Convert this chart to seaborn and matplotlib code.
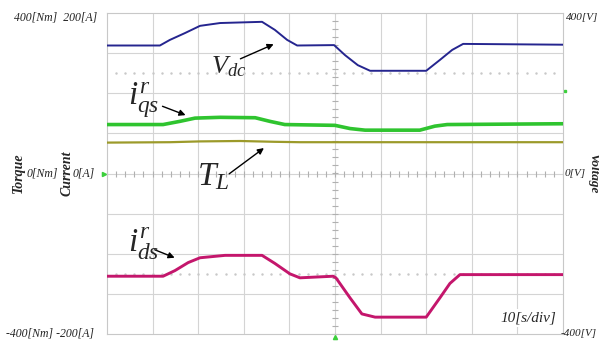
import numpy as np
import pandas as pd
import matplotlib
matplotlib.use("Agg")
import matplotlib.pyplot as plt
import seaborn as sns

# Scope record, 10 s per division, 10 divisions across
time_vdc = [0, 11.6, 13.8, 17.1, 20.4, 24.8, 34.0, 36.8, 39.5, 41.7, 49.8, 52.2, 55.0, 57.7, 70.0, 73.0, 75.7, 78.1, 100]
vdc = [319, 319, 333, 350, 368, 375, 378, 358, 333, 319, 320, 295, 270, 256, 256, 283, 308, 323, 321]  # [V]

time_ids = [0, 12.3, 14.9, 17.8, 20.4, 25.9, 34.0, 36.8, 40.1, 42.3, 49.6, 50.2, 53.3, 55.9, 58.8, 70.0, 73.0, 75.2, 77.4, 100]
ids = [-128, -128, -121, -111, -105, -102, -102, -112, -125, -130, -128, -130, -155, -175, -179, -179, -155, -137, -126, -126]  # [A]

time_iqs = [0, 12.3, 16.0, 19.3, 24.8, 32.5, 35.7, 39.0, 50.0, 53.3, 56.6, 68.6, 71.9, 74.6, 100]
iqs = [61, 61, 65, 69, 70, 69.5, 65, 61, 60, 56, 54, 54, 59, 61, 62]  # [A]

time_tl = [0, 13.8, 20.4, 29.2, 36.8, 42.3, 100]
tl = [77, 78, 80, 81, 79, 78, 78]  # [Nm]

# volts, amps and newton-metres per division on the screen
V_PER_DIV, A_PER_DIV, NM_PER_DIV = 100, 50, 100

traces = {
    "Vdc": (time_vdc, np.array(vdc) / V_PER_DIV, "#25258f", 1.4),
    "iqs": (time_iqs, np.array(iqs) / A_PER_DIV, "#2fc42f", 2.6),
    "TL": (time_tl, np.array(tl) / NM_PER_DIV, "#9c9a2a", 1.6),
    "ids": (time_ids, np.array(ids) / A_PER_DIV, "#c4166c", 2.1),
}

sns.set_theme(style="white")
plt.rcParams["font.family"] = ["Liberation Serif", "DejaVu Serif"]
plt.rcParams["mathtext.fontset"] = "custom"
plt.rcParams["mathtext.it"] = "Liberation Serif:italic"
plt.rcParams["mathtext.rm"] = "Liberation Serif"

W, H = 599, 345
fig = plt.figure(figsize=(W / 100, H / 100), dpi=100)
ax = fig.add_axes([107 / W, 1 - 334 / H, (563 - 107) / W, (334 - 13) / H])

grid_c = "#d4d4d4"
for t in np.arange(10, 100, 10):
    ax.axvline(t, color=grid_c, lw=0.8, zorder=0)
for d in np.arange(-3, 4, 1):
    ax.axhline(d, color=grid_c, lw=0.8, zorder=0)

# graduation ticks on the centre cross
minor_t = np.arange(0, 100.01, 2)
ax.plot(minor_t, np.zeros_like(minor_t), "|", color="#b0b0b0", ms=4, mew=0.8, zorder=0)
minor_d = np.arange(-4, 4.01, 0.2)
ax.plot(np.full_like(minor_d, 50), minor_d, "_", color="#b0b0b0", ms=4, mew=0.8, zorder=0)
for lvl in (2.5, -2.5):
    ax.plot(minor_t[1:-1], np.full(len(minor_t) - 2, lvl), ".", color="#c8c8c8", ms=1.5, zorder=0)

for name, (t, v, c, lw) in traces.items():
    df = pd.DataFrame({"time": t, "div": v})
    sns.lineplot(data=df, x="time", y="div", color=c, lw=lw, ax=ax, zorder=3)

ax.set_xlim(0, 100)
ax.set_ylim(-4, 4)
ax.set_xticks([])
ax.set_yticks([])
ax.set_xlabel("")
ax.set_ylabel("")
for s in ax.spines.values():
    s.set_color("#c8c8c8")
    s.set_linewidth(0.8)

arrow = dict(arrowstyle="-|>", color="black", lw=1.0, mutation_scale=9)
ax.annotate("", xy=(37.1, 3.25), xytext=(28.7, 2.83), arrowprops=arrow)
ax.text(22.8, 2.5, r"$V_{dc}$", fontsize=19, ha="left", va="baseline")
ax.annotate("", xy=(17.8, 1.43), xytext=(11.6, 1.7), arrowprops=arrow)
ax.text(4.6, 1.7, r"$i_{qs}^{r}$", fontsize=24, ha="left", va="baseline")
ax.annotate("", xy=(34.9, 0.675), xytext=(26.3, -0.05), arrowprops=arrow)
ax.text(19.8, -0.3, r"$T_{L}$", fontsize=24, ha="left", va="baseline")
ax.annotate("", xy=(15.4, -2.125), xytext=(9.9, -1.875), arrowprops=arrow)
ax.text(4.6, -1.95, r"$i_{ds}^{r}$", fontsize=24, ha="left", va="baseline")
ax.text(98.5, -3.6, "10[s/div]", fontsize=11, style="italic", ha="right", va="center",
        bbox=dict(facecolor="white", edgecolor="none", pad=1.5), zorder=5)

# scope channel markers
ax.plot([-0.6], [0], marker=">", color="#3ccf3c", ms=3, clip_on=False)
ax.plot([100.4], [2.05], marker="s", color="#3ccf3c", ms=2, clip_on=False)
ax.plot([50], [-4.07], marker="^", color="#3ccf3c", ms=3, clip_on=False)


def ftext(x, y, s, **kw):
    fig.text(x / W, 1 - y / H, s, **kw)


lab = dict(fontsize=8.5, style="italic", color="#222222", va="center")
ftext(14, 17, "400[Nm]  200[A]", ha="left", **lab)
ftext(27, 173, "0[Nm]", ha="left", **lab)
ftext(73, 173, "0[A]", ha="left", **lab)
ftext(6, 333, "-400[Nm] -200[A]", ha="left", **lab)
rlab = dict(lab, fontsize=8)
ftext(566, 17, "400[V]", ha="left", **rlab)
ftext(565, 173, "0[V]", ha="left", **rlab)
ftext(561, 333, "-400[V]", ha="left", **rlab)
bold = dict(fontsize=10, style="italic", weight="bold", va="center", ha="center")
ftext(18, 173, "Torque", rotation=90, **bold)
ftext(67, 173, "Current", rotation=90, **bold)
ftext(593, 173, "Voltage", rotation=270, **dict(bold, fontsize=9.5))

fig.savefig("out.png", dpi=100, facecolor="white")
